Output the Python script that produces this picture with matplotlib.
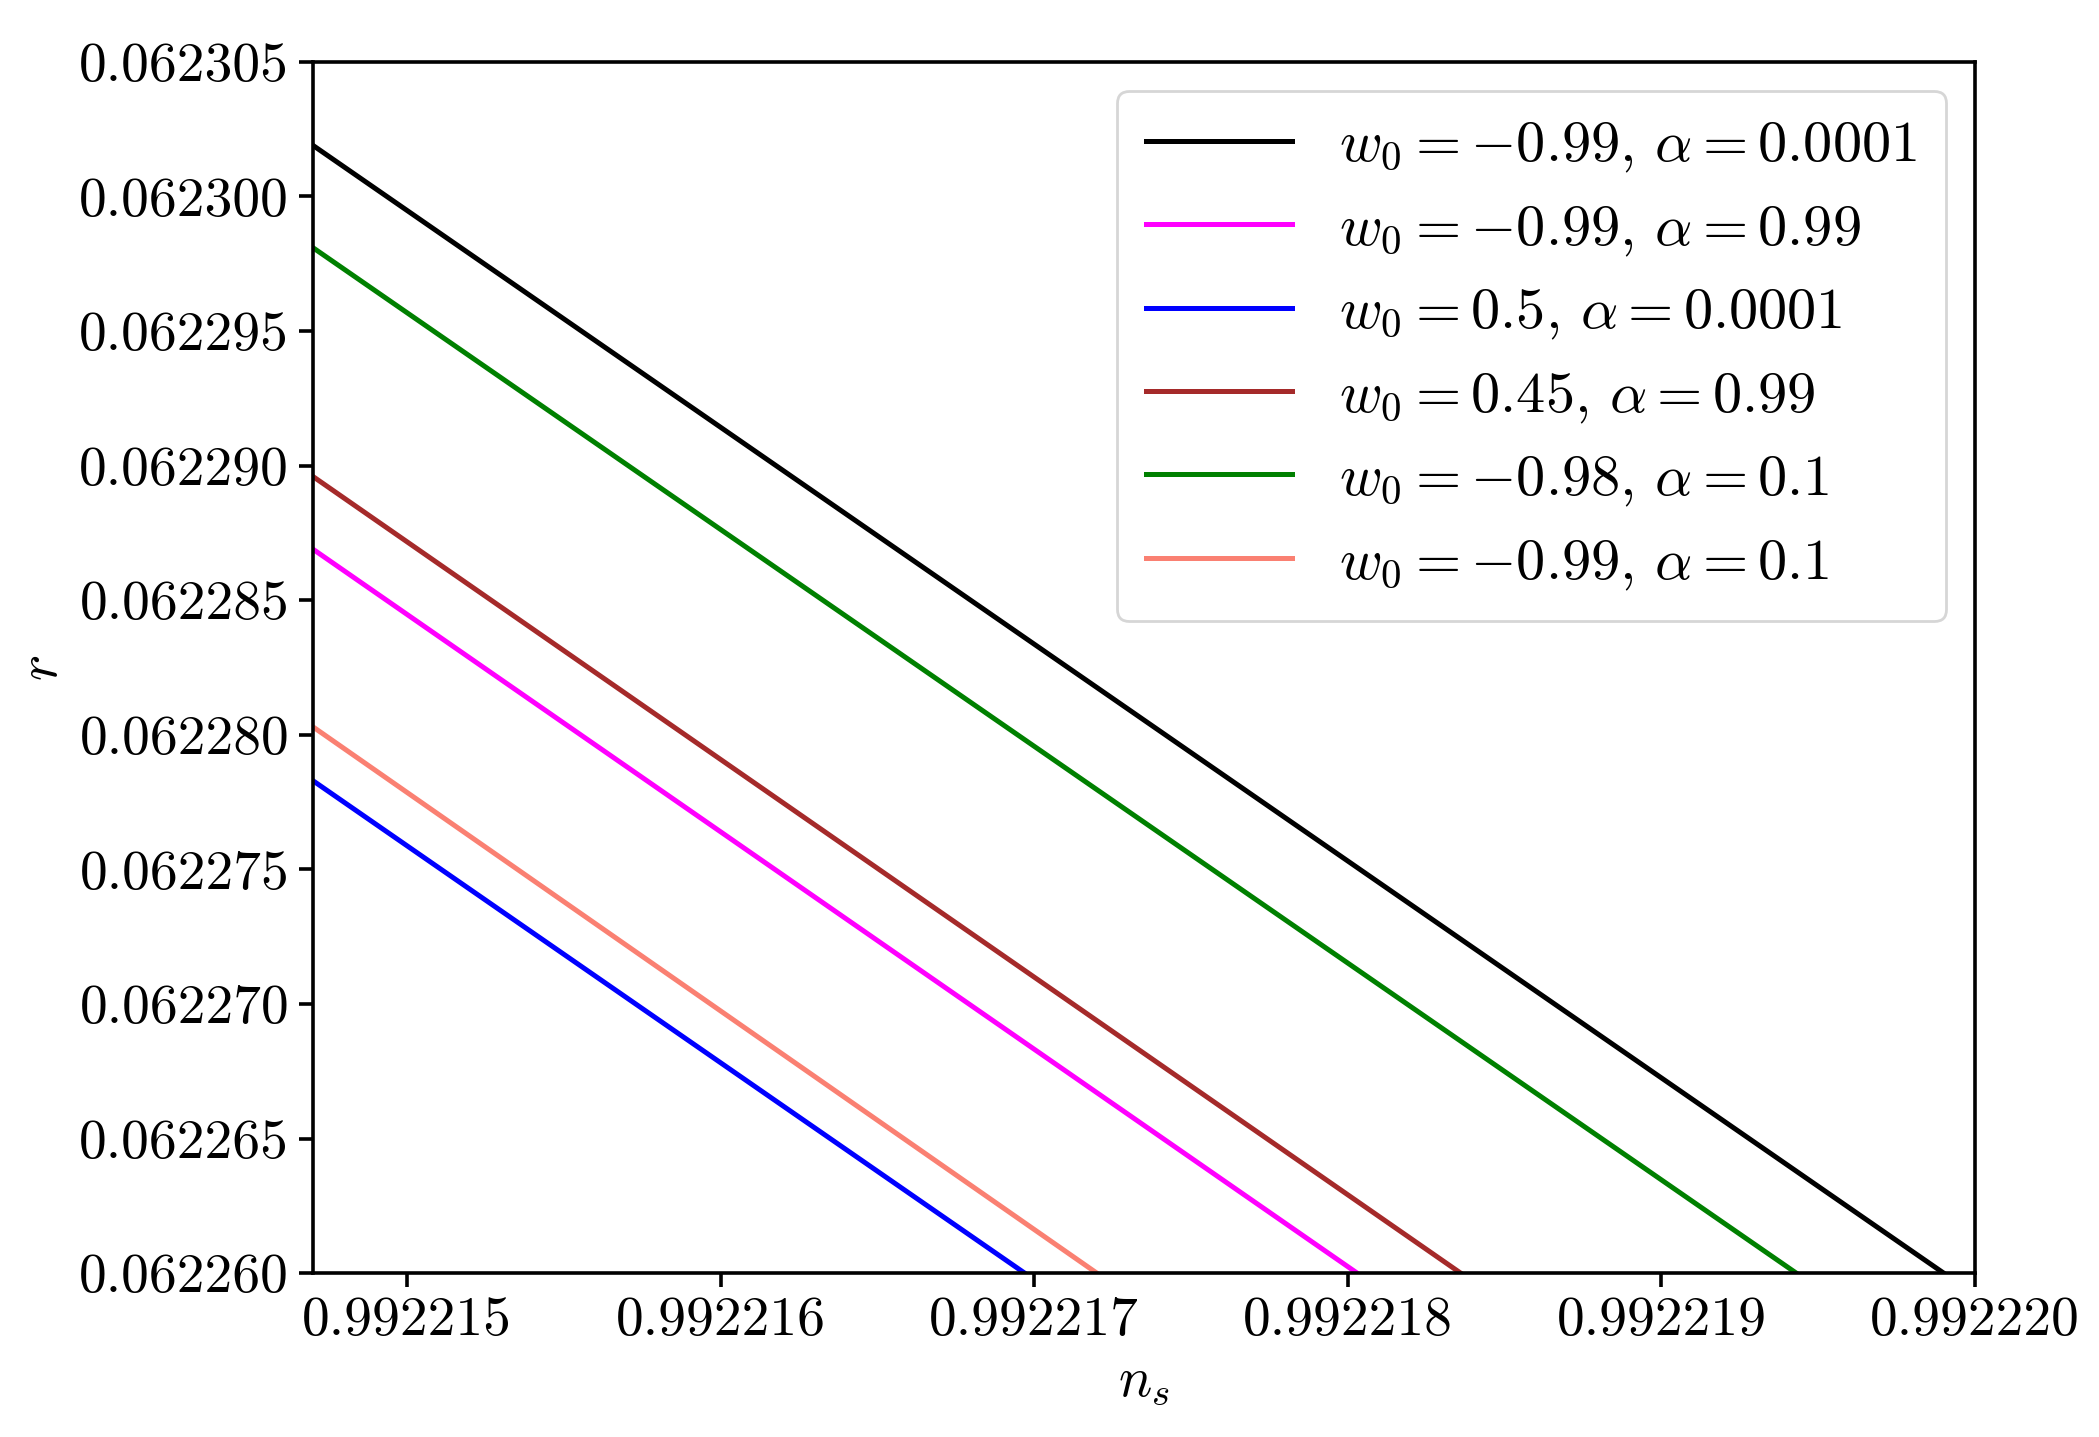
import numpy as np
import matplotlib
matplotlib.use("Agg")
import matplotlib.pyplot as plt
from matplotlib.ticker import FormatStrFormatter

plt.rcParams['font.family'] = 'serif'
plt.rcParams['font.serif'] = ['cmr10']
plt.rcParams['mathtext.fontset'] = 'cm'
plt.rcParams['axes.formatter.use_mathtext'] = True
plt.rcParams['axes.linewidth'] = 1.3

labels = [r'$w_0=-0.99,\,\alpha=0.0001$', r'$w_0=-0.99,\,\alpha=0.99$',
          r'$w_0=0.5,\,\alpha=0.0001$', r'$w_0=0.45,\,\alpha=0.99$',
          r'$w_0=-0.98,\,\alpha=0.1$', r'$w_0=-0.99,\,\alpha=0.1$']
colors = ['black', 'magenta', 'blue', 'brown', 'green', 'salmon']
x_start = 0.9922147
r_start = [0.0623019, 0.0622869, 0.0622783, 0.0622896, 0.0622981, 0.0622803]
ns_end = [0.99221990, 0.99221803, 0.99221697, 0.99221836, 0.99221943, 0.99221720]
r_end = 0.06226

fig = plt.figure(figsize=(10.495, 7.185), dpi=200)
ax = fig.add_axes([0.149, 0.114, 0.792, 0.843])
for lab, c, r0, x1 in zip(labels, colors, r_start, ns_end):
    ax.plot([x_start, x1], [r0, r_end], color=c, lw=1.8, label=lab)

ax.set_xlim(x_start, 0.99222)
ax.set_ylim(0.06226, 0.062305)
ax.set_xticks(np.arange(0.992215, 0.9922205, 0.000001))
ax.set_yticks(np.arange(0.06226, 0.0623051, 0.000005))
ax.xaxis.set_major_formatter(FormatStrFormatter('%.6f'))
ax.yaxis.set_major_formatter(FormatStrFormatter('%.6f'))
ax.tick_params(labelsize=20, width=1.3, length=5)
ax.set_xlabel(r'$n_s$', fontsize=20)
ax.set_ylabel(r'$r$', fontsize=20)
ax.legend(loc='upper right', fontsize=21, handlelength=2.5, borderpad=0.5)
fig.savefig('out.png', dpi=200)
